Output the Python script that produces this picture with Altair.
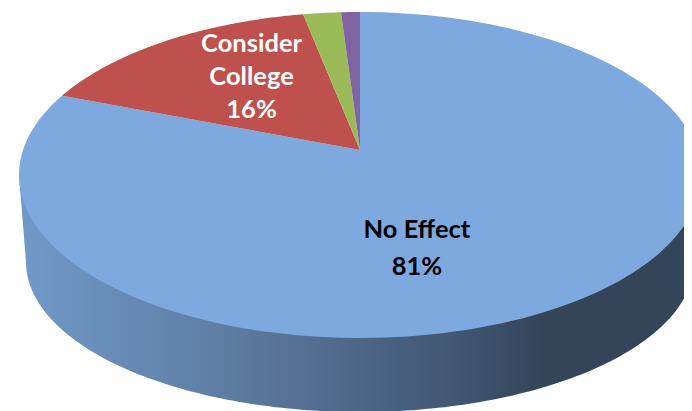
import math
import altair as alt

names = ["No Effect", "Consider College", "Other A", "Other B"]
shares = [81, 16, 2, 1]
colors = ["#7DA9DE", "#BE504D", "#9BBB59", "#8064A2"]

label_lines = ["No Effect", "81%", "Consider", "College", "16%"]
label_colors = ["#000000", "#000000", "#FFFFFF", "#FFFFFF", "#FFFFFF"]
label_cx = [0.167, 0.167, -0.318, -0.318, -0.318]
label_cy = [-0.161, -0.270, 0.384, 0.287, 0.191]

# geometry of the tilted disc, in units of the top ellipse's half-width
RADIUS_PX = 341
TILT = 163 / 341
APEX_Y = 25 / 341
FORESHORTEN = 0.89       # small slices at the far rim look narrower
WALL_RX = 334 / 341
WALL_RY = 150 / 341
WALL_CY = -87 / 341


def rim(phi):
    return [math.sin(phi), TILT * math.cos(phi)]


def arc(start, stop, steps=160):
    return [rim(start + (stop - start) * i / steps) for i in range(steps + 1)]


def feature(name, ring):
    ring = ring + [ring[0]]
    return {"type": "Feature", "properties": {"name": name},
            "geometry": {"type": "Polygon", "coordinates": [ring]}}


# slices run clockwise from 12 o'clock; the small ones sit just left of it
small = sum(shares[1:])
edges = [0.0]
edges.append(2 * math.pi * (1 - FORESHORTEN * small / 100))
for s in shares[1:]:
    edges.append(edges[-1] + 2 * math.pi * FORESHORTEN * s / 100)

slices = [
    feature(n, [[0, APEX_Y]] + arc(edges[i], edges[i + 1]))
    for i, n in enumerate(names)
]

wall_ring = [[-1, 0]]
for i in range(161):
    t = math.pi * i / 160
    wall_ring.append([-WALL_RX * math.cos(t), WALL_CY - WALL_RY * math.sin(t)])
wall_ring.append([1, 0])
wall = [feature("wall", wall_ring)]

labels = [
    {"text": t, "ink": c, "lon": x, "lat": y}
    for t, c, x, y in zip(label_lines, label_colors, label_cx, label_cy)
]

projection = dict(type="identity", reflectY=True, scale=RADIUS_PX, translate=[352, 167])

wall_layer = alt.Chart(alt.Data(values=wall)).mark_geoshape(
    strokeWidth=0,
    fill=alt.Gradient(
        gradient="linear", x1=0, x2=1, y1=0, y2=0,
        stops=[
            alt.GradientStop(color="#7199C8", offset=0),
            alt.GradientStop(color="#5D7CA2", offset=0.31),
            alt.GradientStop(color="#3F5470", offset=0.66),
            alt.GradientStop(color="#344559", offset=0.77),
            alt.GradientStop(color="#344559", offset=1),
        ],
    ),
).project(**projection)

slice_layer = alt.Chart(alt.Data(values=slices)).mark_geoshape(strokeWidth=0).encode(
    color=alt.Color("properties.name:N",
                    scale=alt.Scale(domain=names, range=colors), legend=None)
).project(**projection)

text_layer = alt.Chart(alt.Data(values=labels)).mark_text(
    font="Lato", fontWeight="bold", fontSize=25.5, baseline="middle", align="center"
).encode(
    longitude="lon:Q",
    latitude="lat:Q",
    text="text:N",
    color=alt.Color("ink:N", scale=None),
).project(**projection)

chart = alt.layer(wall_layer, slice_layer, text_layer).properties(
    width=676, height=403, padding=0, background="white"
).configure_view(stroke=None)

chart.save("out.html", embed_options={"renderer": "svg", "actions": False})
